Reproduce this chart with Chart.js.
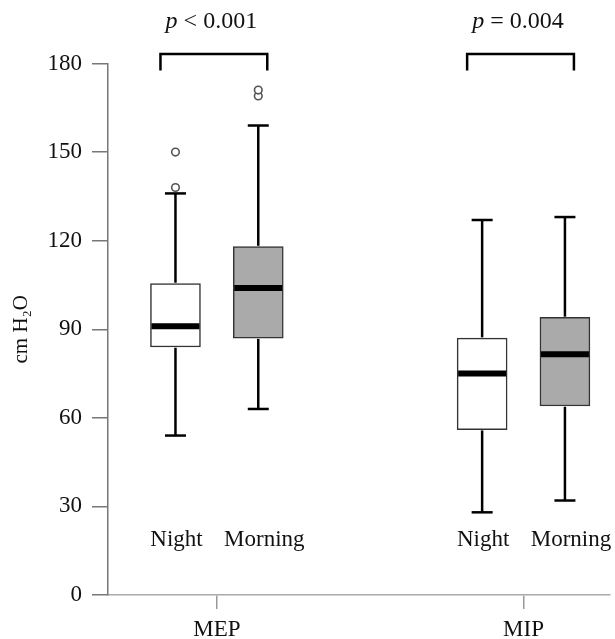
<!DOCTYPE html>
<html>
<head>
<meta charset="utf-8">
<script src="https://cdn.jsdelivr.net/npm/chart.js@4.4.1/dist/chart.umd.min.js"></script>
<style>
  html, body { margin: 0; padding: 0; background: #fff; }
  #wrap { width: 615px; height: 639px; }
</style>
</head>
<body>
<div id="wrap"><canvas id="chart"></canvas></div>
<script>
const groups = ["MEP", "MIP"];
const sessions = ["Night", "Morning"];
const pLabels = ["< 0.001", "= 0.004"];
const yTicks = [0, 30, 60, 90, 120, 150, 180];

// box plot stats per group (MEP, MIP)
const nightMin = [54, 28];
const nightQ1 = [84, 56];
const nightMedian = [91, 75];
const nightQ3 = [105.5, 87];
const nightMax = [136, 127];
const nightOutliers = [[138, 150], []];

const morningMin = [63, 32];
const morningQ1 = [87, 64];
const morningMedian = [104, 81.5];
const morningQ3 = [118, 94];
const morningMax = [159, 128];
const morningOutliers = [[169, 171], []];

const FONT = "'Liberation Serif', 'Times New Roman', serif";
const SESSION_OFFSET = [-0.135, 0.135];
const BOX_W = 50;

const stats = [
  { min: nightMin, q1: nightQ1, med: nightMedian, q3: nightQ3, max: nightMax, out: nightOutliers, fill: "#ffffff" },
  { min: morningMin, q1: morningQ1, med: morningMedian, q3: morningQ3, max: morningMax, out: morningOutliers, fill: "#aaaaaa" },
];

function boxData(s, si) {
  return groups.map((g, gi) => ({ x: gi + 1 + SESSION_OFFSET[si], y: [s.q1[gi], s.q3[gi]] }));
}

function outlierData() {
  const pts = [];
  stats.forEach((s, si) => {
    s.out.forEach((list, gi) => {
      list.forEach((v) => pts.push({ x: gi + 1 + SESSION_OFFSET[si], y: v }));
    });
  });
  return pts;
}

function line(ctx, x1, y1, x2, y2) {
  ctx.beginPath();
  ctx.moveTo(x1, y1);
  ctx.lineTo(x2, y2);
  ctx.stroke();
}

const boxExtras = {
  id: "boxExtras",
  afterDatasetsDraw(chart) {
    const { ctx, scales: { x, y } } = chart;
    ctx.save();
    ctx.strokeStyle = "#000";
    stats.forEach((s, si) => {
      groups.forEach((g, gi) => {
        const cx = x.getPixelForValue(gi + 1 + SESSION_OFFSET[si]);
        const top = y.getPixelForValue(s.max[gi]);
        const bot = y.getPixelForValue(s.min[gi]);
        // whiskers + caps
        ctx.lineWidth = 2.5;
        line(ctx, cx, y.getPixelForValue(s.q3[gi]) - 0.75, cx, top);
        line(ctx, cx, y.getPixelForValue(s.q1[gi]) + 0.75, cx, bot);
        line(ctx, cx - 10.5, top, cx + 10.5, top);
        line(ctx, cx - 10.5, bot, cx + 10.5, bot);
        // median
        ctx.lineWidth = 6;
        line(ctx, cx - BOX_W / 2 + 1, y.getPixelForValue(s.med[gi]), cx + BOX_W / 2 - 1, y.getPixelForValue(s.med[gi]));
      });
    });
    ctx.restore();
  },
  afterDraw(chart) {
    const { ctx, scales: { x, y }, chartArea } = chart;
    ctx.save();
    // session labels under boxes
    ctx.fillStyle = "#111";
    ctx.font = "23px " + FONT;
    ctx.textAlign = "center";
    ctx.textBaseline = "middle";
    groups.forEach((g, gi) => {
      sessions.forEach((name, si) => {
        const cx = x.getPixelForValue(gi + 1 + SESSION_OFFSET[si]);
        ctx.fillText(name, cx + (si === 0 ? 1 : 6), chartArea.bottom - 55);
      });
    });
    // brackets + p values
    ctx.strokeStyle = "#000";
    ctx.lineWidth = 2.5;
    groups.forEach((g, gi) => {
      const xl = x.getPixelForValue(gi + 1 + SESSION_OFFSET[0]) - 15;
      const xr = x.getPixelForValue(gi + 1 + SESSION_OFFSET[1]) + 9;
      const yt = chartArea.top - 9.5;
      ctx.beginPath();
      ctx.moveTo(xl, chartArea.top + 7);
      ctx.lineTo(xl, yt);
      ctx.lineTo(xr, yt);
      ctx.lineTo(xr, chartArea.top + 7);
      ctx.stroke();

      const italic = "italic 24px " + FONT;
      const normal = "24px " + FONT;
      const rest = " " + pLabels[gi];
      ctx.font = italic;
      const wp = ctx.measureText("p").width;
      ctx.font = normal;
      const wr = ctx.measureText(rest).width;
      const cx = x.getPixelForValue(gi + 1) - 5.5;
      const x0 = cx - (wp + wr) / 2;
      ctx.textAlign = "left";
      ctx.textBaseline = "alphabetic";
      ctx.font = italic;
      ctx.fillText("p", x0, 28);
      ctx.font = normal;
      ctx.fillText(rest, x0 + wp, 28);
    });
    ctx.restore();
  },
};

new Chart(document.getElementById("chart"), {
  type: "bar",
  data: {
    datasets: [
      ...stats.map((s, si) => ({
        label: sessions[si],
        data: boxData(s, si),
        backgroundColor: s.fill,
        borderColor: "#333",
        borderWidth: 1.5,
        borderSkipped: false,
        barThickness: BOX_W,
        grouped: false,
      })),
      {
        type: "scatter",
        label: "Outliers",
        data: outlierData(),
        pointStyle: "circle",
        pointRadius: 3.8,
        borderColor: "#555",
        borderWidth: 1.6,
        backgroundColor: "#fff",
      },
    ],
  },
  options: {
    responsive: true,
    maintainAspectRatio: false,
    animation: false,
    layout: { padding: { top: 63.5, right: 5, left: 0, bottom: 0 } },
    plugins: { legend: { display: false }, tooltip: { enabled: false } },
    scales: {
      x: {
        type: "linear",
        offset: false,
        min: 0.645,
        max: 2.28,
        afterBuildTicks: (scale) => { scale.ticks = groups.map((g, i) => ({ value: i + 1 })); },
        afterFit: (scale) => { scale.height = 44; },
        ticks: {
          callback: (v) => groups[v - 1],
          color: "#111",
          font: { family: FONT, size: 23 },
          padding: 7,
          maxRotation: 0,
        },
        grid: { offset: false, drawOnChartArea: false, tickLength: 14, color: "#999", lineWidth: 1.5 },
        border: { color: "#aaa", width: 1.5 },
      },
      y: {
        min: 0,
        max: 180,
        afterBuildTicks: (scale) => { scale.ticks = yTicks.map((v) => ({ value: v })); },
        afterFit: (scale) => { scale.width = 108; },
        ticks: {
          color: "#111",
          font: { family: FONT, size: 23 },
          padding: 10,
        },
        grid: { drawOnChartArea: false, tickLength: 16, color: "#777", lineWidth: 1.5 },
        border: { color: "#777", width: 1.5 },
        title: {
          display: true,
          text: "cm H₂O",
          color: "#111",
          font: { family: FONT, size: 21 },
          padding: { top: 9, bottom: 0 },
        },
      },
    },
  },
  plugins: [boxExtras],
});
</script>
</body>
</html>
